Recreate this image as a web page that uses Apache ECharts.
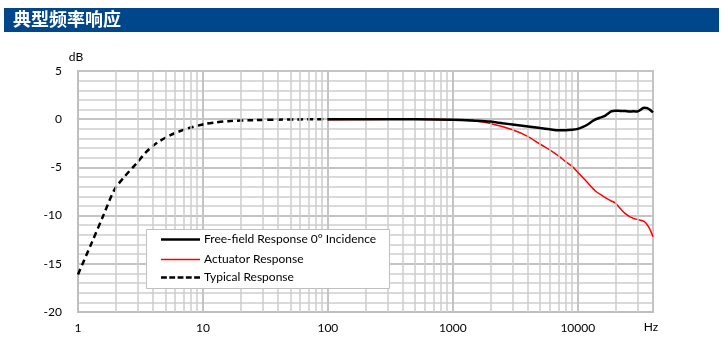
<!DOCTYPE html>
<html>
<head>
<meta charset="utf-8">
<script src="https://cdn.jsdelivr.net/npm/echarts@6/dist/echarts.min.js"></script>
<style>
  html, body { margin: 0; padding: 0; background: #fff; }
  #chart { width: 724px; height: 352px; }
</style>
</head>
<body>
<div id="chart"></div>
<script>
// chart data
const title = "典型频率响应";
const seriesNames = ["Free-field Response 0° Incidence", "Actuator Response", "Typical Response"];

const freeFieldFreq = [100, 200, 500, 1000, 1500, 2000, 2500, 3000, 4000, 5000, 6000, 7000, 8000, 9000, 10000, 11000, 12000, 13500, 15000, 16500, 18500, 20000, 22000, 24000, 26000, 28000, 30000, 32000, 34000, 36000, 38000, 40000];
const freeFieldDb = [0, 0, 0, -0.05, -0.15, -0.25, -0.42, -0.55, -0.75, -0.92, -1.05, -1.15, -1.15, -1.1, -1.0, -0.8, -0.55, -0.1, 0.15, 0.35, 0.8, 0.88, 0.86, 0.85, 0.8, 0.82, 0.8, 1.0, 1.2, 1.15, 0.95, 0.7];

const actuatorFreq = [100, 200, 500, 1000, 1500, 2000, 3000, 4000, 5000, 6000, 7000, 8000, 9000, 10000, 12000, 14000, 16000, 18000, 20000, 22000, 24000, 26000, 28000, 30000, 34000, 37000, 40000];
const actuatorDb = [-0.05, -0.02, 0, -0.05, -0.2, -0.45, -1.1, -1.8, -2.6, -3.2, -3.8, -4.4, -4.9, -5.5, -6.6, -7.5, -8.0, -8.4, -8.7, -9.3, -9.8, -10.1, -10.3, -10.4, -10.6, -11.2, -12.2];

const typicalFreq = [1, 1.3, 1.6, 1.96, 2.36, 2.93, 3.52, 4.24, 5.6, 7.6, 10.3, 12.4, 16, 25, 40, 60, 100];
const typicalDb = [-16.1, -12.7, -9.95, -7.3, -5.95, -4.6, -3.4, -2.5, -1.6, -0.95, -0.5, -0.35, -0.2, -0.1, -0.05, -0.02, 0];

// x gridlines between the decades (2..9 of each decade)
const minorFreqLines = [];
for (const decade of [1, 10, 100, 1000, 10000]) {
  for (let k = 2; k <= 9; k++) {
    if (decade * k < 40000) minorFreqLines.push(decade * k);
  }
}

// legend line samples, 40px wide
const dashIcon = "path://M0,0L6,0L6,2.5L0,2.5ZM8.5,0L14.5,0L14.5,2.5L8.5,2.5ZM17,0L23,0L23,2.5L17,2.5ZM25.5,0L31.5,0L31.5,2.5L25.5,2.5ZM34,0L40,0L40,2.5L34,2.5Z";

const toPairs = (xs, ys) => xs.map((x, i) => [x, ys[i]]);

const baseFont = "Lato, 'Open Sans', sans-serif";

// one legend per row, so each row keeps its own line sample
const legendRow = (name, top, icon, iconHeight, color) => ({
  orient: "vertical",
  left: 161,
  top: top,
  padding: 0,
  itemWidth: 39,
  itemHeight: iconHeight,
  itemGap: 0,
  z: 8,
  selectedMode: false,
  textStyle: { fontSize: 12, color: "#000", fontFamily: baseFont, padding: [0, 0, 0, -1] },
  itemStyle: { color: color, borderWidth: 0 },
  lineStyle: { type: "solid", color: color },
  data: [{ name: name, icon: icon }],
});

const chart = echarts.init(document.getElementById("chart"));

chart.setOption({
  animation: false,
  backgroundColor: "#fff",
  textStyle: { fontFamily: baseFont },
  graphic: [
    {
      type: "rect",
      shape: { x: 4, y: 8, width: 715, height: 24 },
      style: { fill: "#00468b" },
      silent: true,
    },
    {
      type: "text",
      left: 13,
      top: 10,
      style: {
        text: title,
        fill: "#fff",
        font: "bold 18px 'Noto Sans CJK SC', sans-serif",
      },
      silent: true,
    },
    {
      // legend frame
      type: "rect",
      shape: { x: 146.5, y: 229.5, width: 243, height: 59 },
      style: { fill: "#fff", stroke: "#bfbfbf", lineWidth: 1 },
      z: 7,
      silent: true,
    },
  ],
  grid: {
    left: 78,
    right: 71,
    top: 71,
    bottom: 40,
    show: true,
    borderColor: "#bfbfbf",
    borderWidth: 2,
  },
  legend: [
    legendRow(seriesNames[0], 233.5, "rect", 2.5, "#000"),
    legendRow(seriesNames[1], 253.5, "rect", 1.5, "#ff0000"),
    legendRow(seriesNames[2], 271.5, dashIcon, 14, "#000"),
  ],
  xAxis: {
    type: "log",
    logBase: 10,
    min: 1,
    max: 40000,
    name: "Hz",
    nameLocation: "end",
    nameGap: -2,
    nameTextStyle: {
      align: "center",
      verticalAlign: "top",
      padding: [9, 0, 0, 0],
      fontSize: 12,
      color: "#000",
    },
    axisLine: { show: true, onZero: false, lineStyle: { color: "#bfbfbf", width: 2 } },
    axisTick: { show: false },
    axisLabel: {
      margin: 10,
      fontSize: 12,
      color: "#000",
      showMaxLabel: false,
      formatter: (v) => {
        const lg = Math.log10(v);
        return Math.abs(lg - Math.round(lg)) < 1e-6 ? String(Math.round(v)) : "";
      },
    },
    splitLine: { show: true, lineStyle: { color: "#c4c4c4", width: 2 } },
  },
  yAxis: {
    type: "value",
    min: -20,
    max: 5,
    interval: 5,
    name: "dB",
    nameLocation: "end",
    nameGap: 8,
    nameTextStyle: { fontSize: 12, color: "#000", align: "center", padding: [0, 0, 0, -4] },
    axisLine: { show: true, lineStyle: { color: "#bfbfbf", width: 2 } },
    axisTick: { show: false },
    axisLabel: { margin: 16, fontSize: 12, color: "#000" },
    splitLine: { show: true, lineStyle: { color: "#c4c4c4", width: 2 } },
    minorTick: { show: false, splitNumber: 5 },
    minorSplitLine: { show: true, lineStyle: { color: "#dadada", width: 2 } },
  },
  series: [
    {
      name: seriesNames[0],
      type: "line",
      data: toPairs(freeFieldFreq, freeFieldDb),
      symbol: "none",
      smooth: 0.3,
      z: 5,
      lineStyle: { color: "#000", width: 2.5, type: "solid" },
      itemStyle: { color: "#000" },
      markLine: {
        silent: true,
        symbol: "none",
        animation: false,
        label: { show: false },
        lineStyle: { color: "#cccccc", width: 1.5, type: "solid" },
        data: minorFreqLines.map((f) => ({ xAxis: f })),
      },
    },
    {
      name: seriesNames[1],
      type: "line",
      data: toPairs(actuatorFreq, actuatorDb),
      symbol: "none",
      smooth: 0.3,
      z: 4,
      lineStyle: { color: "#ff0000", width: 1.5, type: "solid" },
      itemStyle: { color: "#ff0000" },
    },
    {
      name: seriesNames[2],
      type: "line",
      data: toPairs(typicalFreq, typicalDb),
      symbol: "none",
      smooth: 0.3,
      z: 4,
      lineStyle: { color: "#000", width: 2.5, type: [6, 4] },
      itemStyle: { color: "#000" },
    },
  ],
});
</script>
</body>
</html>
